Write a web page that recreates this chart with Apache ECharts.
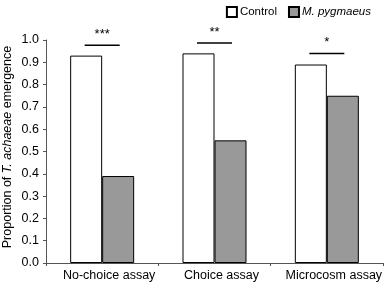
<!DOCTYPE html>
<html>
<head>
<meta charset="utf-8">
<script src="https://cdn.jsdelivr.net/npm/echarts@6/dist/echarts.min.js"></script>
<style>
    html, body { margin: 0; padding: 0; background: #fff; }
    #chart { width: 388px; height: 285px; }
</style>
</head>
<body>
<div id="chart"></div>
<script>
// 数据
var categories = ['No-choice assay', 'Choice assay', 'Microcosm assay'];
var controlValues = [0.93, 0.94, 0.89];
var pygmaeusValues = [0.39, 0.55, 0.75];
// 显著性标记: 线的高度和星号
var sigLevels = [0.977, 0.987, 0.94];
var sigStars = ['***', '**', '*'];

var font = 'Liberation Sans, Arial, sans-serif';
var myChart = echarts.init(document.getElementById('chart'));

myChart.setOption({
    animation: false,
    grid: {
        top: 40,
        right: 5,
        bottom: 22,
        left: 46,
        containLabel: false,
        outerBoundsMode: 'none'
    },
    // y轴标题
    graphic: [
        {
            type: 'text',
            x: 8,
            y: 147,
            rotation: Math.PI / 2,
            style: {
                text: '{n|Proportion of }{it|T. achaeae}{n| emergence}',
                align: 'center',
                verticalAlign: 'middle',
                rich: {
                    n: { fontFamily: font, fontSize: 12.5, fill: '#000' },
                    it: { fontFamily: font, fontSize: 12.5, fontStyle: 'italic', fill: '#000' }
                }
            }
        }
    ],
    legend: {
        top: 1,
        right: 12,
        icon: 'rect',
        itemWidth: 10,
        itemHeight: 10,
        itemGap: 11,
        textStyle: {
            fontFamily: font,
            fontSize: 11.5,
            color: '#000',
            padding: [0, 0, 0, -2],
            rich: {
                it: { fontFamily: font, fontSize: 11.5, fontStyle: 'italic', color: '#000' }
            }
        },
        formatter: function (name) {
            return name === 'M. pygmaeus' ? '{it|' + name + '}' : name;
        },
        data: ['Control', 'M. pygmaeus']
    },
    xAxis: {
        type: 'category',
        data: categories,
        axisLine: {
            lineStyle: { color: '#555', width: 1 }
        },
        axisTick: {
            show: true,
            length: 3,
            lineStyle: { color: '#555' }
        },
        axisLabel: {
            interval: 0,
            fontFamily: font,
            fontSize: 12.5,
            color: '#000',
            margin: 6,
            padding: [0, 0, 0, 14]
        }
    },
    yAxis: {
        type: 'value',
        min: 0,
        max: 1,
        interval: 0.1,
        splitLine: { show: false },
        axisLine: {
            show: true,
            lineStyle: { color: '#555', width: 1 }
        },
        axisTick: {
            show: true,
            length: 3,
            lineStyle: { color: '#555' }
        },
        axisLabel: {
            fontFamily: font,
            fontSize: 12.5,
            color: '#000',
            margin: 7,
            formatter: function (v) { return v.toFixed(1); }
        }
    },
    series: [
        {
            name: 'Control',
            type: 'bar',
            data: controlValues,
            barWidth: 32,
            barGap: '0%',
            itemStyle: {
                color: '#fff',
                borderColor: '#000',
                borderWidth: 1
            }
        },
        {
            name: 'M. pygmaeus',
            type: 'bar',
            data: pygmaeusValues,
            barWidth: 32,
            barGap: '0%',
            itemStyle: {
                color: '#999',
                borderColor: '#000',
                borderWidth: 1
            }
        },
        {
            // 显著性线和星号
            type: 'custom',
            silent: true,
            data: sigLevels.map(function (v, i) { return [i, v]; }),
            renderItem: function (params, api) {
                var pt = api.coord([api.value(0), api.value(1)]);
                var half = 17.5;
                return {
                    type: 'group',
                    children: [
                        {
                            type: 'line',
                            shape: { x1: pt[0] - half, y1: pt[1], x2: pt[0] + half, y2: pt[1] },
                            style: { stroke: '#000', lineWidth: 1.5 }
                        },
                        {
                            type: 'text',
                            x: pt[0],
                            y: pt[1] - 4,
                            style: {
                                text: sigStars[params.dataIndex],
                                fontFamily: font,
                                fontSize: 13,
                                fill: '#000',
                                align: 'center',
                                verticalAlign: 'bottom'
                            }
                        }
                    ]
                };
            }
        }
    ]
});
</script>
</body>
</html>
